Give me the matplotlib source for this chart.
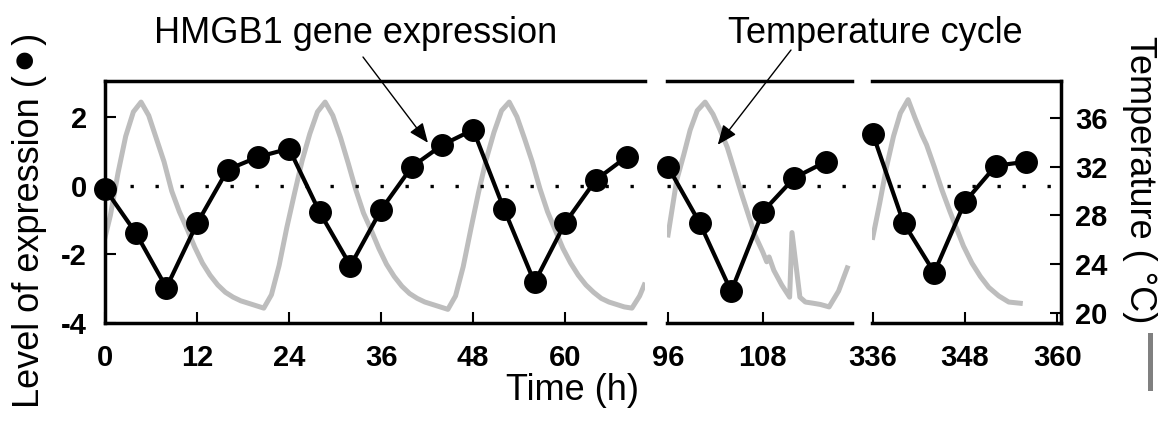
import matplotlib.pyplot as plt
from matplotlib.lines import Line2D

plt.rcParams['font.family'] = ['Liberation Sans', 'DejaVu Sans']
plt.rcParams['axes.unicode_minus'] = False

# HMGB1 expression, sampled every 4 h
expr_t1 = [0, 4, 8, 12, 16, 20, 24, 28, 32, 36, 40, 44, 48, 52, 56, 60, 64, 68]
expr_v1 = [-0.09, -1.37, -2.97, -1.10, 0.47, 0.84, 1.08, -0.78, -2.33, -0.70,
           0.55, 1.19, 1.63, -0.67, -2.82, -1.08, 0.17, 0.84]
expr_t2 = [96, 100, 104, 108, 112, 116]
expr_v2 = [0.55, -1.08, -3.08, -0.76, 0.23, 0.70]
expr_t3 = [336, 340, 344, 348, 352, 356]
expr_v3 = [1.51, -1.08, -2.53, -0.47, 0.58, 0.70]

# temperature cycle (deg C)
temp_t1 = [0] + [h + 0.7 for h in range(70)] + [70.3]
temp_v1 = [26.2,
           28.0, 31.5, 34.5, 36.5, 37.3,
           36.2, 34.3, 32.4, 30.0, 28.3, 26.9, 25.4, 24.1, 23.1, 22.3, 21.7, 21.3, 21.0, 20.8, 20.6, 20.4,
           21.5, 23.9, 27.0, 29.8, 32.5, 34.7, 36.5, 37.3,
           36.2, 34.4, 32.3, 30.1, 28.2, 26.8, 25.3, 24.0, 23.0, 22.2, 21.6, 21.2, 20.9, 20.7, 20.5, 20.3,
           21.4, 23.8, 26.9, 29.9, 32.6, 34.8, 36.6, 37.3,
           36.1, 34.3, 32.4, 30.2, 28.3, 26.8, 25.3, 24.1, 23.1, 22.3, 21.7, 21.2, 20.9, 20.7, 20.5, 20.4,
           21.4, 22.3]
temp_t2 = [96.0, 97.1, 98.0, 98.8, 99.7, 100.7, 101.7, 102.6, 103.5, 104.5, 105.3, 106.0,
           107.0, 108.0, 108.5, 108.8, 109.4, 110.4, 111.4, 111.7, 112.7, 113.4, 114.4,
           115.3, 116.4, 117.6, 118.7]
temp_v2 = [26.4, 30.9, 33.0, 35.0, 36.6, 37.3, 36.3, 35.0, 33.6, 31.5, 29.8, 28.4,
           26.4, 25.0, 24.2, 24.6, 23.5, 22.3, 21.3, 26.6, 21.3, 20.9, 20.8,
           20.7, 20.5, 21.8, 23.7]
temp_t3 = [336.0, 336.9, 337.8, 338.7, 339.6, 340.6, 341.5, 342.4, 343.0, 344.0, 345.0,
           346.0, 346.8, 347.8, 348.9, 350.0, 351.1, 352.4, 353.7, 355.2]
temp_v3 = [26.2, 29.0, 32.0, 34.5, 36.4, 37.5, 36.0, 34.6, 33.8, 32.0, 30.1,
           28.4, 27.1, 25.5, 24.1, 23.0, 22.1, 21.4, 20.9, 20.8]

x_ticks = [[0, 12, 24, 36, 48, 60], [96, 108], [336, 348, 360]]
expr_ticks = [-4, -2, 0, 2]
temp_ticks = [20, 24, 28, 32, 36]

W, H = 1162, 425
fig = plt.figure(figsize=(W / 100, H / 100), dpi=100)

# panel extents in pixels and x ranges
px = [(105, 645), (667, 852), (872, 1061)]
xlims = [(0, 70.4), (95.87, 119.3), (335.9, 360.5)]
top_px, bot_px = 81, 323

data = [(expr_t1, expr_v1, temp_t1, temp_v1),
        (expr_t2, expr_v2, temp_t2, temp_v2),
        (expr_t3, expr_v3, temp_t3, temp_v3)]

lw_spine = 2.5
axes = []
twins = []
for i, (x0, x1) in enumerate(px):
    ax = fig.add_axes([x0 / W, 1 - bot_px / H, (x1 - x0) / W, (bot_px - top_px) / H])
    axt = ax.twinx()
    et, ev, tt, tv = data[i]

    axt.plot(tt, tv, color='#bdbdbd', lw=3.6, solid_joinstyle='round')
    ax.axhline(0, color='black', lw=2.4, ls=(0, (1, 6.5)), zorder=1)
    ax.plot(et, ev, '-o', color='black', lw=3, ms=15.5, zorder=3, clip_on=False)

    ax.set_zorder(axt.get_zorder() + 1)
    ax.patch.set_visible(False)

    ax.set_xlim(*xlims[i])
    ax.set_ylim(-4, 3.05)
    axt.set_ylim(19.18, 39.03)

    for s in ['left', 'right', 'top', 'bottom']:
        ax.spines[s].set_linewidth(lw_spine)
        axt.spines[s].set_visible(False)
    ax.spines['right'].set_visible(False)
    if i > 0:
        ax.spines['left'].set_visible(False)

    ax.set_xticks(x_ticks[i])
    ax.set_xticklabels([str(t) for t in x_ticks[i]], fontweight='bold')
    ax.tick_params(axis='x', direction='in', length=8, width=1.5, labelsize=21, pad=15)

    if i == 0:
        ax.set_yticks(expr_ticks)
        ax.set_yticklabels([str(t) for t in expr_ticks], fontweight='bold')
        ax.tick_params(axis='y', direction='in', length=8, width=1.5, labelsize=21, pad=13)
    else:
        ax.tick_params(axis='y', left=False, labelleft=False)

    if i == 2:
        axt.spines['right'].set_visible(True)
        axt.spines['right'].set_linewidth(lw_spine)
        axt.set_yticks(temp_ticks)
        axt.set_yticklabels([str(t) for t in temp_ticks], fontweight='bold')
        axt.tick_params(axis='y', direction='in', length=8, width=1.5, labelsize=21, pad=10)
    else:
        axt.tick_params(axis='y', right=False, labelright=False)

    axes.append(ax)
    twins.append(axt)

# axis titles
fig.text(572 / W, 1 - 390 / H, 'Time (h)', fontsize=26, ha='center', va='center')
fig.text(30 / W, 1 - 220 / H, 'Level of expression (\u26ab)', fontsize=26,
         rotation=90, ha='center', va='center')
fig.text(1140 / W, 1 - 180 / H, 'Temperature ( \u00b0C)', fontsize=26,
         rotation=270, ha='center', va='center')
fig.add_artist(Line2D([1150 / W, 1150 / W], [1 - 335 / H, 1 - 388 / H],
                      color='#808080', lw=3.6, transform=fig.transFigure))

# callouts
arrow = dict(arrowstyle='-|>,head_length=0.6,head_width=0.25', color='black',
             lw=1, mutation_scale=20, shrinkA=0, shrinkB=0)
fig.text(356 / W, 1 - 43 / H, 'HMGB1 gene expression', fontsize=26,
         ha='center', va='baseline')
axes[0].annotate('', xy=(42.1, 1.25), xycoords='data',
                 xytext=(363 / W, 1 - 57 / H), textcoords='figure fraction',
                 arrowprops=arrow, annotation_clip=False)
fig.text(875 / W, 1 - 43 / H, 'Temperature cycle', fontsize=26,
         ha='center', va='baseline')
twins[1].annotate('', xy=(102.3, 33.8), xycoords='data',
                  xytext=(791 / W, 1 - 50 / H), textcoords='figure fraction',
                  arrowprops=arrow, annotation_clip=False)

fig.savefig('out.png', dpi=100)
